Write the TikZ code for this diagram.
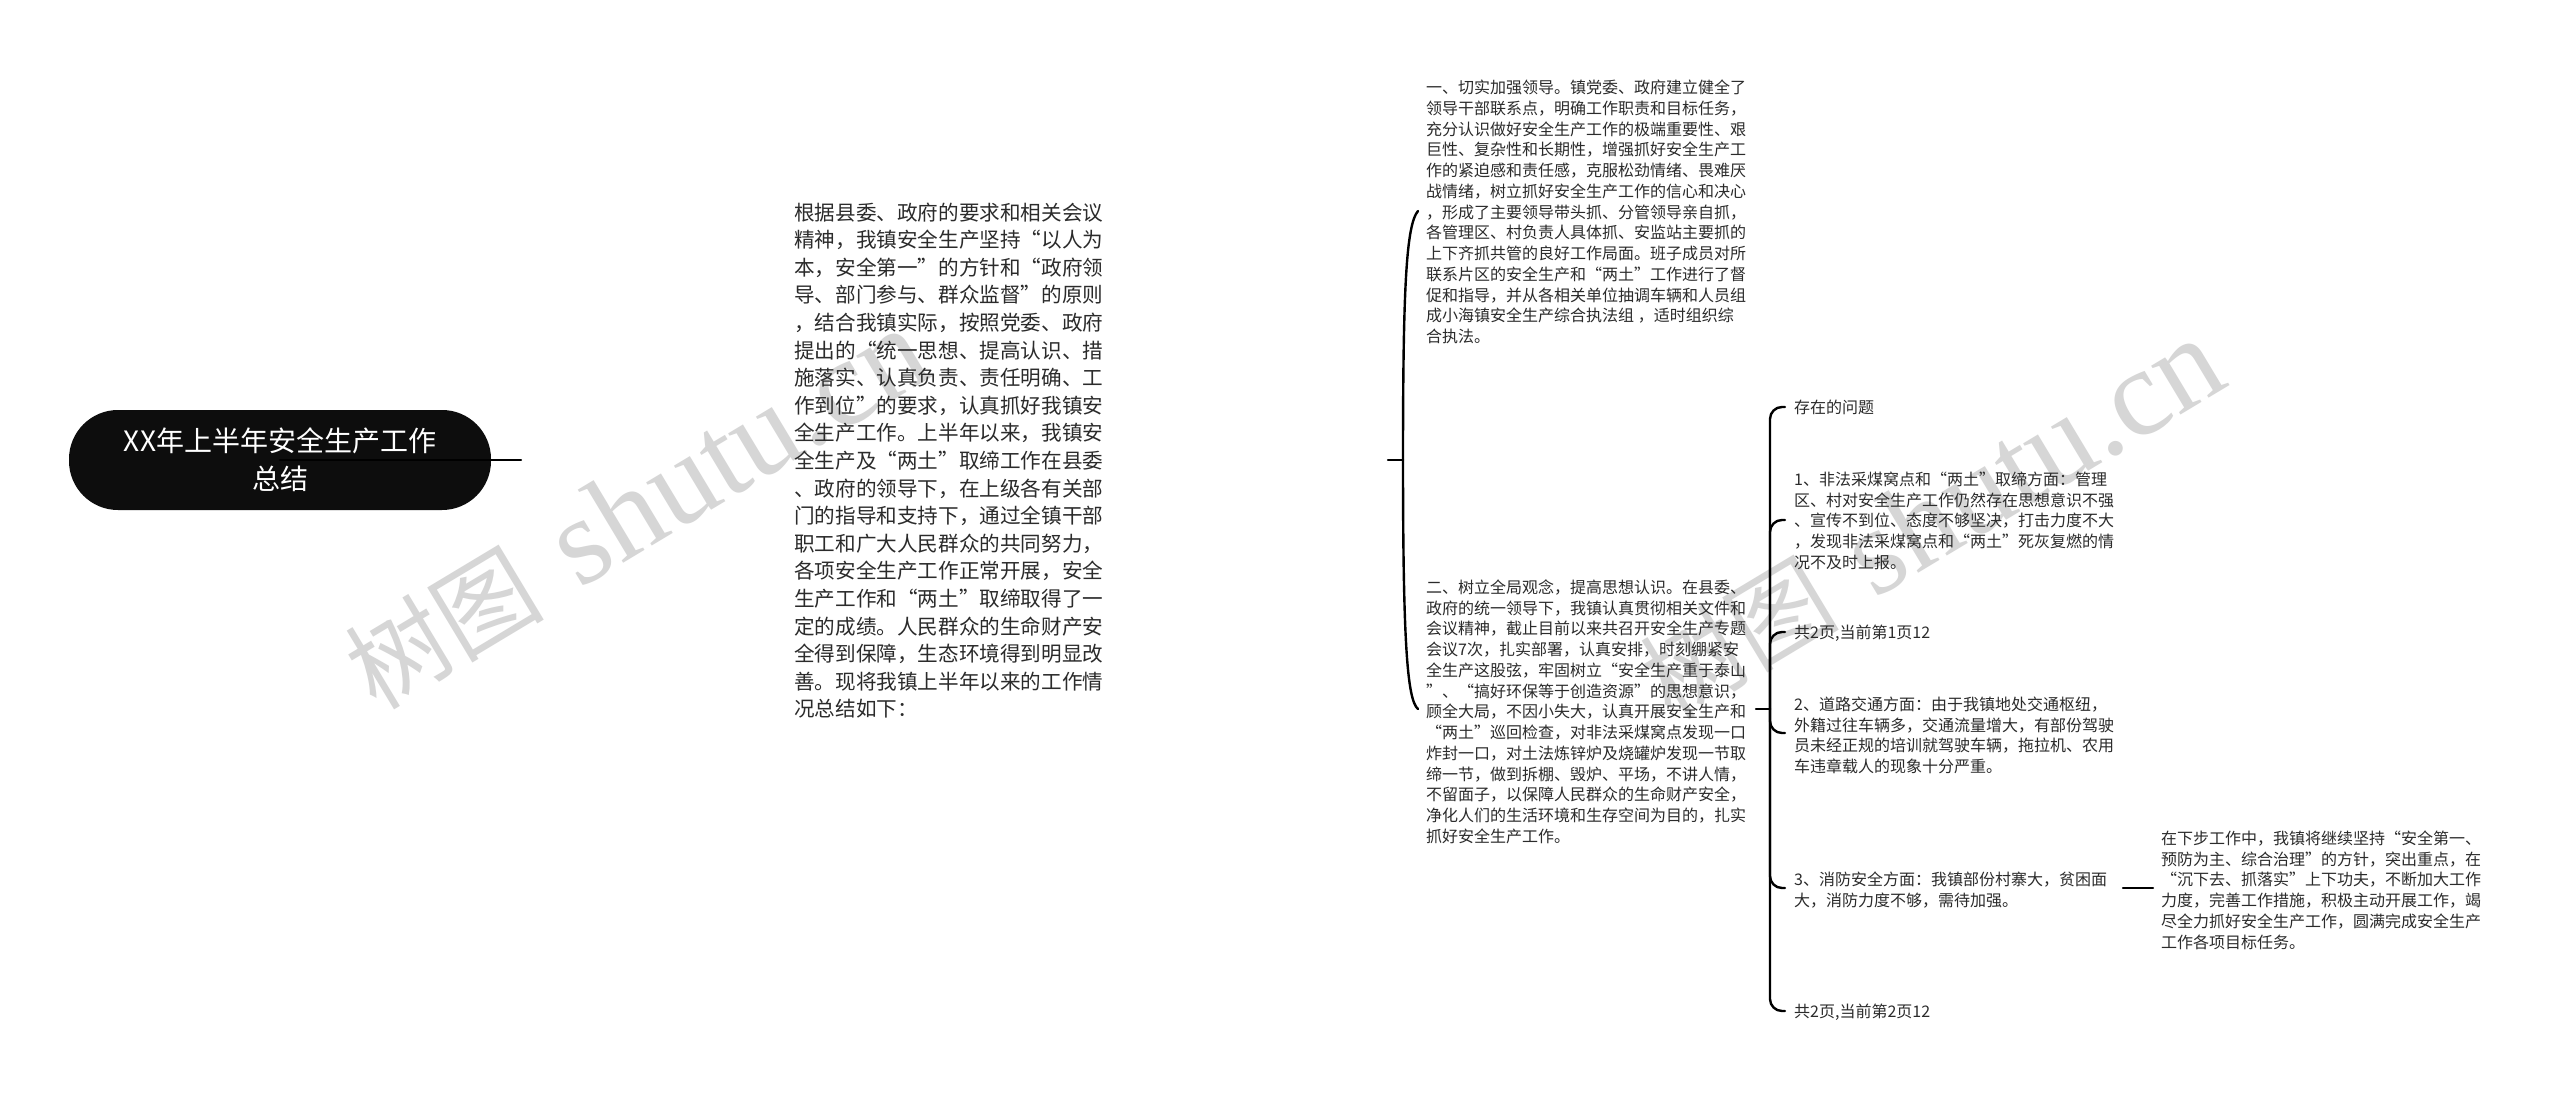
\documentclass[tikz,border=0pt]{standalone}
\usepackage{fontspec}
\setmainfont{Noto Sans CJK SC}
\newfontfamily\wmlatin{Liberation Serif}
\definecolor{inktext}{HTML}{2B2B2B}
\definecolor{rootfill}{HTML}{0D0D0D}
\definecolor{wmgray}{HTML}{D6D6D6}
\tikzset{
  bodysmall/.style={anchor=north west,inner sep=0pt,align=left,text=inktext,font=\fontsize{16}{20.75}\selectfont},
  bodylarge/.style={anchor=north west,inner sep=0pt,align=left,text=inktext,font=\fontsize{20.6}{27.6}\selectfont},
  rootbox/.style={fill=rootfill,text=white,rounded corners=49pt,minimum width=422pt,minimum height=100pt,inner sep=0pt,align=center,font=\fontsize{28}{38}\selectfont},
  link/.style={draw=black,line width=2.4pt,line cap=round},
  elbow/.style={link,rounded corners=12pt},
  wmark/.style={text=wmgray,rotate=31,inner sep=0pt,anchor=base west,font=\fontsize{100}{100}\selectfont}
}
\begin{document}
\begin{tikzpicture}[x=1pt,y=-1pt]
\useasboundingbox (0,0) rectangle (2560,1099);
\fill[white] (0,0) rectangle (2560,1099);
% watermarks
\node[wmark] (wmA) at (376,712) {树图\hspace{15pt} {\wmlatin\fontsize{124}{124}\selectfont shutu.cn}};
\node[wmark] (wmB) at (1671,722) {树图\hspace{15pt} {\wmlatin\fontsize{124}{124}\selectfont shutu.cn}};
% root
\node[rootbox] (root) at (280,460) {XX年上半年安全生产工作\\总结};
% intro
\node[bodylarge] (intro) at (794,200.5) {\strut 根据县委、政府的要求和相关会议\\
精神，我镇安全生产坚持“以人为\\
本，安全第一”的方针和“政府领\\
导、部门参与、群众监督”的原则\\
，结合我镇实际，按照党委、政府\\
提出的“统一思想、提高认识、措\\
施落实、认真负责、责任明确、工\\
作到位”的要求，认真抓好我镇安\\
全生产工作。上半年以来，我镇安\\
全生产及“两土”取缔工作在县委\\
、政府的领导下，在上级各有关部\\
门的指导和支持下，通过全镇干部\\
职工和广大人民群众的共同努力，\\
各项安全生产工作正常开展，安全\\
生产工作和“两土”取缔取得了一\\
定的成绩。人民群众的生命财产安\\
全得到保障，生态环境得到明显改\\
善。现将我镇上半年以来的工作情\\
况总结如下：};
% section one
\node[bodysmall] (secA) at (1426,79) {\strut 一、切实加强领导。镇党委、政府建立健全了\\
领导干部联系点，明确工作职责和目标任务，\\
充分认识做好安全生产工作的极端重要性、艰\\
巨性、复杂性和长期性，增强抓好安全生产工\\
作的紧迫感和责任感，克服松劲情绪、畏难厌\\
战情绪，树立抓好安全生产工作的信心和决心\\
，形成了主要领导带头抓、分管领导亲自抓，\\
各管理区、村负责人具体抓、安监站主要抓的\\
上下齐抓共管的良好工作局面。班子成员对所\\
联系片区的安全生产和“两土”工作进行了督\\
促和指导，并从各相关单位抽调车辆和人员组\\
成小海镇安全生产综合执法组 ，适时组织综\\
合执法。};
% section two
\node[bodysmall] (secB) at (1426,578.6) {\strut 二、树立全局观念，提高思想认识。在县委、\\
政府的统一领导下，我镇认真贯彻相关文件和\\
会议精神，截止目前以来共召开安全生产专题\\
会议7次，扎实部署，认真安排，时刻绷紧安\\
全生产这股弦，牢固树立“安全生产重于泰山\\
”、“搞好环保等于创造资源”的思想意识，\\
顾全大局，不因小失大，认真开展安全生产和\\
“两土”巡回检查，对非法采煤窝点发现一口\\
炸封一口，对土法炼锌炉及烧罐炉发现一节取\\
缔一节，做到拆棚、毁炉、平场，不讲人情，\\
不留面子，以保障人民群众的生命财产安全，\\
净化人们的生活环境和生存空间为目的，扎实\\
抓好安全生产工作。};
% right column
\node[bodysmall] (issue) at (1794,398.6) {\strut 存在的问题};
\node[bodysmall] (itemA) at (1794,470.6) {\strut 1、非法采煤窝点和“两土”取缔方面：管理\\
区、村对安全生产工作仍然存在思想意识不强\\
、宣传不到位、态度不够坚决，打击力度不大\\
，发现非法采煤窝点和“两土”死灰复燃的情\\
况不及时上报。};
\node[bodysmall] (pageA) at (1794,623.6) {\strut 共2页,当前第1页12};
\node[bodysmall] (itemB) at (1794,695.6) {\strut 2、道路交通方面：由于我镇地处交通枢纽，\\
外籍过往车辆多，交通流量增大，有部份驾驶\\
员未经正规的培训就驾驶车辆，拖拉机、农用\\
车违章载人的现象十分严重。};
\node[bodysmall] (itemC) at (1794,870.6) {\strut 3、消防安全方面：我镇部份村寨大，贫困面\\
大，消防力度不够，需待加强。};
\node[bodysmall] (pageB) at (1794,1003) {\strut 共2页,当前第2页12};
\node[bodysmall] (next) at (2161,829.6) {\strut 在下步工作中，我镇将继续坚持“安全第一、\\
预防为主、综合治理”的方针，突出重点，在\\
“沉下去、抓落实”上下功夫，不断加大工作\\
力度，完善工作措施，积极主动开展工作，竭\\
尽全力抓好安全生产工作，圆满完成安全生产\\
工作各项目标任务。};
% connector anchors
\coordinate (rootEnd) at (521,460);
\coordinate (leftIn) at (1388,460);
\coordinate (leftHub) at (1403,460);
\coordinate (secAEnd) at (1418,211);
\coordinate (secBEnd) at (1418,709);
\coordinate (rightIn) at (1756,709);
\coordinate (rightHub) at (1770,709);
\coordinate (issueEnd) at (1785,407);
\coordinate (itemAEnd) at (1785,520);
\coordinate (pageAEnd) at (1785,632);
\coordinate (itemBEnd) at (1785,733);
\coordinate (itemCEnd) at (1785,888);
\coordinate (pageBEnd) at (1785,1011);
\coordinate (nextIn) at (2123,888);
\coordinate (nextOut) at (2153,888);
% connectors
\draw[link] (root.center) -- (rootEnd);
\draw[link] (leftIn) -- (leftHub);
\draw[link] (leftHub) .. controls (1403,290) and (1406,225) .. (secAEnd);
\draw[link] (leftHub) .. controls (1403,640) and (1407,700) .. (secBEnd);
\draw[link] (rightIn) -- (rightHub);
\draw[elbow] (rightHub) |- (issueEnd);
\draw[elbow] (rightHub) |- (itemAEnd);
\draw[elbow] (rightHub) |- (pageAEnd);
\draw[elbow] (rightHub) |- (itemBEnd);
\draw[elbow] (rightHub) |- (itemCEnd);
\draw[elbow] (rightHub) |- (pageBEnd);
\draw[link] (nextIn) -- (nextOut);
\end{tikzpicture}
\end{document}
